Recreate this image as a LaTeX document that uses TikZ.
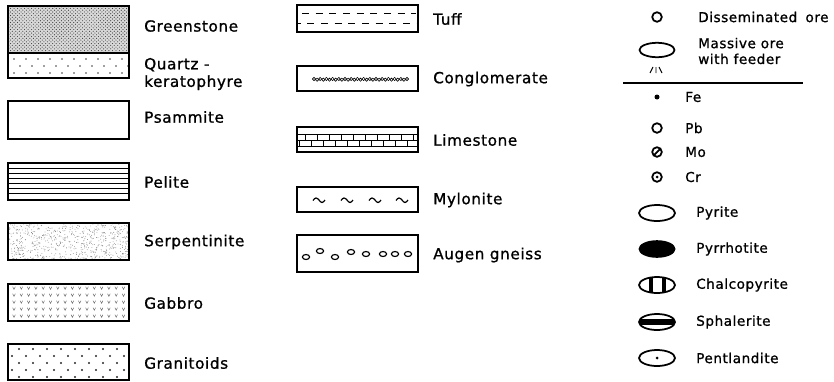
\documentclass[tikz,border=0pt]{standalone}
\usepackage{fontspec}
\setmainfont{DejaVu Sans}[LetterSpace=4, FakeBold=1]
\usetikzlibrary{patterns}

\tikzset{
  legbox/.style={line width=1.3pt},
  lbl/.style={anchor=west, inner sep=0pt, align=left,
    font=\fontsize{13}{15}\selectfont},
  orelbl/.style={lbl, font=\fontsize{11.6}{13.5}\selectfont},
  ore/.style={line width=1.5pt},
}

\begin{document}
\begin{tikzpicture}[x=0.3mm, y=-0.3mm]
  \useasboundingbox (0,0) rectangle (834,381);

  % Greenstone and quartz-keratophyre
  \fill[black!15] (8,6) rectangle (129,53);
  \fill[pattern=crosshatch dots, pattern color=black!75] (8,6) rectangle (129,53);
  \begin{scope}
    \clip (8,53) rectangle (129,78);
    \foreach \y/\o in {59/0, 66/6, 73/0}
      \foreach \x in {0,12,...,120}
        \fill[black!75] (14+\o+\x,\y) circle (0.8pt);
  \end{scope}
  \draw[legbox] (8,6) rectangle (129,78);
  \draw[legbox] (8,53) -- (129,53);
  \node[lbl] (greenstone) at (144,26) {Greenstone};
  \node[lbl] (quartz) at (144,74) {Quartz -\\keratophyre};

  % Psammite
  \draw[legbox] (8,101) rectangle (129,139);
  \node[lbl] (psammite) at (144,117) {Psammite};

  % Pelite
  \foreach \y in {168,173,...,196}
    \draw[line width=0.45pt] (8,\y) -- (129,\y);
  \draw[legbox] (8,163) rectangle (129,200);
  \node[lbl] (pelite) at (144,182) {Pelite};

  % Serpentinite
  \begin{scope}
    \clip (8,223) rectangle (129,260);
    \pgfmathsetseed{42}
    \foreach \i in {1,...,700}
      \fill[black!55] ({8+121*rnd},{223+37*rnd}) circle (0.35pt);
  \end{scope}
  \draw[legbox] (8,223) rectangle (129,260);
  \node[lbl] (serpentinite) at (144,242) {Serpentinite};

  % Gabbro
  \foreach \y in {288,295,302,309,316}
    \foreach \x in {14,21.3,...,126}
      \draw[black!60, line width=0.4pt] (\x-1.3,\y-1.3) -- (\x,\y+1.3) -- (\x+1.3,\y-1.3);
  \draw[legbox] (8,284) rectangle (129,321);
  \node[lbl] (gabbro) at (144,303) {Gabbro};

  % Granitoids
  \begin{scope}
    \clip (8,344) rectangle (129,380);
    \foreach \y/\s in {349/19, 356/12, 363/19, 370/12, 377/19}
      \foreach \x in {0,14,...,112}
        \fill[black!85] (\s+\x,\y) circle (0.9pt);
  \end{scope}
  \draw[legbox] (8,344) rectangle (129,380);
  \node[lbl] (granitoids) at (144,363) {Granitoids};

  % Tuff
  \draw[line width=0.8pt, dash pattern=on 2.1mm off 2mm] (302,13) -- (416,13);
  \draw[line width=0.8pt, dash pattern=on 2.1mm off 2mm, dash phase=1mm] (297,23) -- (418,23);
  \draw[legbox] (297,5) rectangle (418,32);
  \node[lbl] (tuff) at (433,19) {Tuff};

  % Conglomerate
  \foreach \i in {0,...,30}
    \draw[line width=0.5pt] ({314+3.1*\i},{79+0.7*mod(\i,2)}) circle (1.6);
  \draw[legbox] (297,66) rectangle (418,91);
  \node[lbl] (conglomerate) at (433,79) {Conglomerate};

  % Limestone
  \foreach \y in {134,140,146}
    \draw[line width=0.45pt] (297,\y) -- (418,\y);
  \foreach \x in {305,317,...,413}
    \draw[line width=0.45pt] (\x,134) -- (\x,140);
  \foreach \x in {299,311,...,413}
    \draw[line width=0.45pt] (\x,140) -- (\x,146);
  \draw[legbox] (297,127) rectangle (418,152);
  \node[lbl] (limestone) at (433,140) {Limestone};

  % Mylonite
  \foreach \x in {319,347,375,402}
    \draw[line width=1pt] (\x-6,200.5) sin (\x-3,198) cos (\x,200) sin (\x+3,202.5) cos (\x+6,200);
  \draw[legbox] (297,187) rectangle (418,212);
  \node[lbl] (mylonite) at (433,200) {Mylonite};

  % Augen gneiss
  \foreach \x/\y in {306/257, 320/251, 335/257, 351/252, 366/254, 383/254, 395/254, 408/254}
    \draw[line width=1pt] (\x,\y) ellipse [x radius=3.6, y radius=2.5];
  \draw[legbox] (297,235) rectangle (418,272);
  \node[lbl] (augen) at (433,255) {Augen gneiss};

  % Ore types
  \draw[ore] (657,17) circle (4.8);
  \node[orelbl] (dissem) at (698,17) {Disseminated\hspace{0.25em} ore};
  \draw[ore] (657,50) ellipse [x radius=17.5, y radius=7.2];
  \draw[line width=0.8pt] (650,73) -- (653,67) (656,73) -- (656,67) (659,67) -- (662,73);
  \node[orelbl] (massive) at (698,51) {Massive ore\\with feeder};
  \draw[line width=1pt] (623,83) -- (803,83);

  % Metals
  \fill (657,97) circle (2.5);
  \node[orelbl] (fe) at (685,97) {Fe};
  \draw[ore] (657,128) circle (4.8);
  \node[orelbl] (pb) at (685,128) {Pb};
  \draw[ore] (657,152) circle (4.8);
  \draw[ore] (654,155) -- (660,149);
  \node[orelbl] (mo) at (685,152) {Mo};
  \draw[ore] (657,177) circle (4.8);
  \fill (657,177) circle (1.5);
  \node[orelbl] (cr) at (685,177) {Cr};

  % Minerals
  \draw[ore] (657,213) ellipse [x radius=18, y radius=8];
  \node[orelbl] (pyrite) at (696,213) {Pyrite};
  \fill (657,249) ellipse [x radius=18.5, y radius=8.8];
  \node[orelbl] (pyrrhotite) at (696,249) {Pyrrhotite};
  \begin{scope}
    \clip (657,285) ellipse [x radius=18, y radius=8];
    \fill (648.5,275) rectangle (652.5,295);
    \fill (661.5,275) rectangle (665.5,295);
  \end{scope}
  \draw[ore] (657,285) ellipse [x radius=18, y radius=8];
  \node[orelbl] (chalco) at (696,285) {Chalcopyrite};
  \begin{scope}
    \clip (657,322) ellipse [x radius=18, y radius=8];
    \fill (638,319.2) rectangle (676,324.8);
  \end{scope}
  \draw[ore] (657,322) ellipse [x radius=18, y radius=8];
  \node[orelbl] (sphalerite) at (696,322) {Sphalerite};
  \draw[ore] (657,358) ellipse [x radius=18, y radius=8];
  \fill (657,358) circle (1.5);
  \node[orelbl] (pentlandite) at (696,358) {Pentlandite};
\end{tikzpicture}
\end{document}
